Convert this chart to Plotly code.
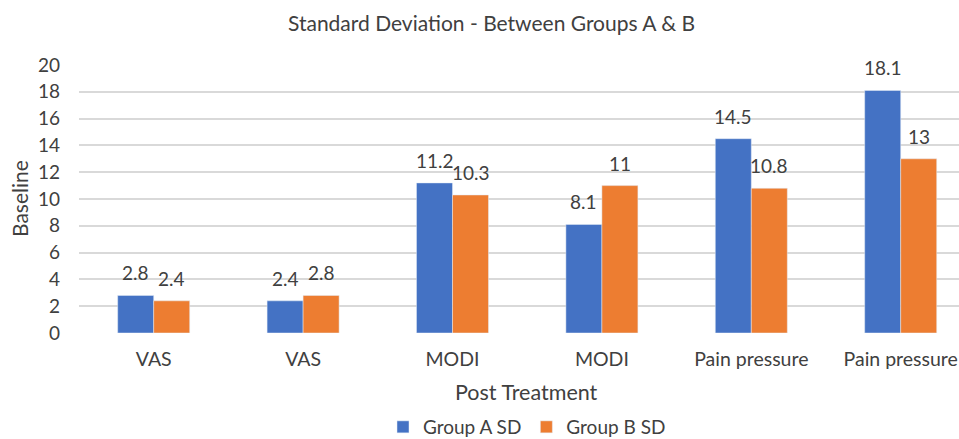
import plotly.graph_objects as go

categories = ["VAS", "VAS", "MODI", "MODI", "Pain pressure", "Pain pressure"]
group_a = [2.8, 2.4, 11.2, 8.1, 14.5, 18.1]
group_b = [2.4, 2.8, 10.3, 11, 10.8, 13]
y_ticks = [0, 2, 4, 6, 8, 10, 12, 14, 16, 18, 20]

x = list(range(len(categories)))
FONT = "Lato, 'Open Sans', sans-serif"
TXT = "#404040"
L, R, T, B = 79, 0, 65, 106
W, H = 959, 439
pw = W - L - R
ph = H - T - B
BARGAP = 0.518
half = (1 - BARGAP) / 4  # offset of each bar centre from category centre

def px_to_paper(px):
    return (px - L) / pw

fig = go.Figure()
fig.add_bar(x=x, y=group_a, name="Group A SD", marker_color="#4472C4")
fig.add_bar(x=x, y=group_b, name="Group B SD", marker_color="#ED7D31")

for vals, off in ((group_a, -half), (group_b, half)):
    for xi, v in zip(x, vals):
        fig.add_annotation(x=xi + off, y=v, text=f"{v:g}", showarrow=False,
                           yanchor="bottom", yshift=9,
                           font=dict(size=19, color=TXT, family=FONT))

fig.update_layout(
    width=W, height=H,
    margin=dict(l=L, r=R, t=T, b=B, autoexpand=False),
    paper_bgcolor="white", plot_bgcolor="white",
    barmode="group", bargap=BARGAP, bargroupgap=0,
    font=dict(family=FONT, color=TXT, size=19),
    showlegend=True,
    legend=dict(orientation="h", x=px_to_paper(527), xanchor="center",
                yref="container", y=1 - 427 / H, yanchor="middle",
                font=dict(size=19, color=TXT), itemwidth=30,
                traceorder="normal"),
    xaxis=dict(tickvals=x, ticktext=categories, range=[-0.5, -0.5 + pw / 149.4],
               showgrid=False, zeroline=False, showline=False, ticks="",
               tickfont=dict(size=19.5, color=TXT), ticklabelstandoff=12),
    yaxis=dict(range=[0, 20], tickvals=y_ticks, showgrid=True, gridcolor="#D9D9D9",
               gridwidth=1.5, zeroline=False, showline=False, ticks="",
               tickfont=dict(size=19, color=TXT), ticklabelstandoff=18),
)

fig.add_annotation(text="Standard Deviation - Between Groups A & B", xref="paper", yref="paper",
                   x=px_to_paper(491), y=1 + (65 - 22) / ph, showarrow=False,
                   font=dict(size=21, color=TXT), yanchor="middle")
fig.add_annotation(text="Post Treatment", xref="paper", yref="paper",
                   x=px_to_paper(526), y=-(392 - (H - B)) / ph, showarrow=False,
                   font=dict(size=21.5, color=TXT), yanchor="middle")
fig.add_annotation(text="Baseline", xref="paper", yref="paper", textangle=-90,
                   x=-(L - 19) / pw, y=0.5, showarrow=False,
                   font=dict(size=21, color=TXT), xanchor="center")

fig.write_html("out.html")
